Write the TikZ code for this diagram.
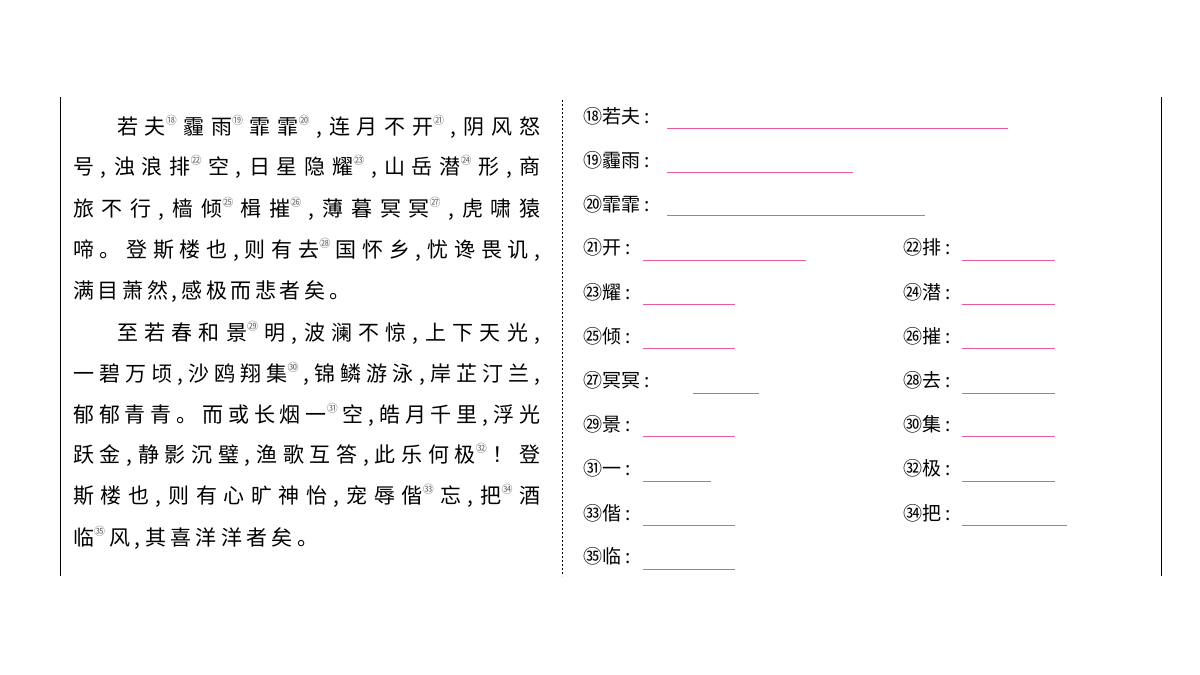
\documentclass[tikz,border=0pt]{standalone}
\usepackage{fontspec}
\setmainfont{Noto Sans CJK SC}
\definecolor{pk}{RGB}{232,90,160}
\newcommand{\sn}[1]{\raisebox{0.5em}{\textcolor{gray!80!black}{\fontsize{11}{11}\selectfont #1}}}
\begin{document}
\begin{tikzpicture}[x=1pt,y=-1pt,
 ln/.style={anchor=west,inner sep=0pt,font=\fontsize{21}{21}\selectfont},
 lab/.style={anchor=west,inner sep=0pt,font=\fontsize{19}{19}\selectfont},
 blank/.style={pk,line width=0.6pt}]
\useasboundingbox (0,0) rectangle (1200,675);
\draw[line width=1pt] (60,97) -- (60,576);
\draw[line width=1pt] (1161,97) -- (1161,576);
\draw[dashed,line width=0.6pt,dash pattern=on 2pt off 2pt] (562,100) -- (562,576);
\newcommand{\LL}[3]{\node[ln] (#1) at (#2) {\makebox[467pt][s]{#3}};}
\node[ln] (l1) at (117,127) {\makebox[423pt][s]{若 夫\sn{⑱} 霾 雨\sn{⑲} 霏 霏\sn{⑳} , 连 月 不 开\sn{㉑} , 阴 风 怒}};
\LL{l2}{73,167}{号 , 浊 浪 排\sn{㉒} 空 , 日 星 隐 耀\sn{㉓} , 山 岳 潜\sn{㉔} 形 , 商}
\LL{l3}{73,209}{旅 不 行 , 樯 倾\sn{㉕} 楫 摧\sn{㉖} , 薄 暮 冥 冥\sn{㉗} , 虎 啸 猿}
\LL{l4}{73,250}{啼 。 登 斯 楼 也 , 则 有 去\sn{㉘} 国 怀 乡 , 忧 谗 畏 讥 ,}
\node[ln] (l5) at (73,292) {\makebox[277pt][s]{满 目 萧 然 , 感 极 而 悲 者 矣 。}};
\node[ln] (l6) at (117,333) {\makebox[423pt][s]{至 若 春 和 景\sn{㉙} 明 , 波 澜 不 惊 , 上 下 天 光 ,}};
\LL{l7}{73,374}{一 碧 万 顷 , 沙 鸥 翔 集\sn{㉚} , 锦 鳞 游 泳 , 岸 芷 汀 兰 ,}
\LL{l8}{73,415}{郁 郁 青 青 。 而 或 长 烟 一\sn{㉛} 空 , 皓 月 千 里 , 浮 光}
\LL{l9}{73,455}{跃 金 , 静 影 沉 璧 , 渔 歌 互 答 , 此 乐 何 极\sn{㉜} ！ 登}
\LL{l10}{73,496}{斯 楼 也 , 则 有 心 旷 神 怡 , 宠 辱 偕\sn{㉝} 忘 , 把\sn{㉞} 酒}
\node[ln] (l11) at (73,538) {\makebox[245pt][s]{临\sn{㉟} 风 , 其 喜 洋 洋 者 矣 。}};
% right column
\newcommand{\QQ}[5]{\node[lab] (#1) at (#2) {#3};
 \coordinate (#1a) at (#4); \coordinate (#1b) at (#5); \draw[blank] (#1a) -- (#1b);}
\QQ{q18}{583,116}{⑱若夫 :}{667,128}{1008,128}
\QQ{q19}{583,160}{⑲霾雨 :}{667,172}{853,172}
\QQ{q20}{583,204}{⑳霏霏 :}{667,215}{925,215}
\QQ{q21}{583,247}{㉑开 :}{643,260}{806,260}
\QQ{q22}{903,247}{㉒排 :}{962,260}{1055,260}
\QQ{q23}{583,292}{㉓耀 :}{643,304}{735,304}
\QQ{q24}{903,292}{㉔潜 :}{962,304}{1055,304}
\QQ{q25}{583,336}{㉕倾 :}{643,348}{735,348}
\QQ{q26}{903,336}{㉖摧 :}{962,348}{1055,348}
\QQ{q27}{583,380}{㉗冥冥 :}{693,393}{759,393}
\QQ{q28}{903,380}{㉘去 :}{962,393}{1055,393}
\QQ{q29}{583,424}{㉙景 :}{643,436}{735,436}
\QQ{q30}{903,424}{㉚集 :}{962,436}{1055,436}
\QQ{q31}{583,468}{㉛一 :}{643,481}{711,481}
\QQ{q32}{903,468}{㉜极 :}{962,481}{1055,481}
\QQ{q33}{583,513}{㉝偕 :}{643,525}{735,525}
\QQ{q34}{903,513}{㉞把 :}{962,525}{1067,525}
\QQ{q35}{583,556}{㉟临 :}{643,569}{735,569}
\end{tikzpicture}
\end{document}
